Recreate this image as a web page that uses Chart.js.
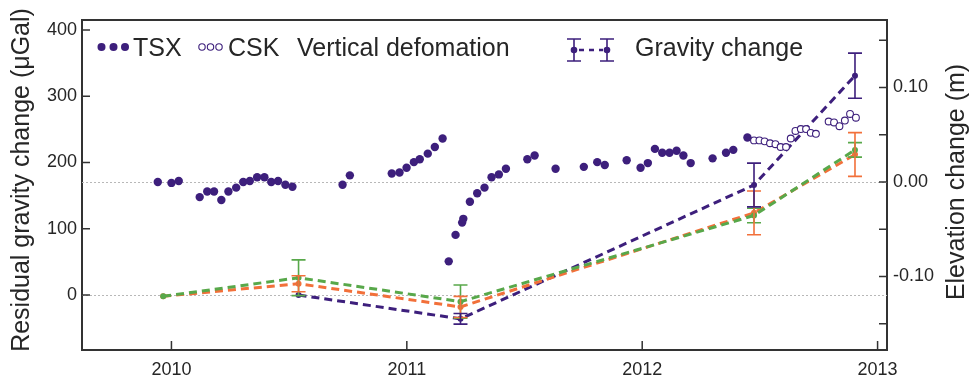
<!DOCTYPE html>
<html>
<head>
<meta charset="utf-8">
<script src="https://cdn.jsdelivr.net/npm/chart.js@4"></script>
<style>
  html, body { margin: 0; padding: 0; background: #fff; }
  #wrap { width: 971px; height: 388px; position: relative; }
</style>
</head>
<body>
<div id="wrap"><canvas id="c"></canvas></div>
<script>
// TSX elevation time series (decimal year, metres)
const tsxYears = [2009.942, 2010.000, 2010.031, 2010.120, 2010.152, 2010.181, 2010.212, 2010.242, 2010.275, 2010.305,
  2010.333, 2010.364, 2010.395, 2010.424, 2010.453, 2010.484, 2010.514, 2010.727, 2010.758, 2010.936,
  2010.969, 2010.999, 2011.030, 2011.055, 2011.089, 2011.119, 2011.152, 2011.178, 2011.207, 2011.235,
  2011.240, 2011.268, 2011.299, 2011.330, 2011.360, 2011.391, 2011.421, 2011.512, 2011.543, 2011.632,
  2011.752, 2011.809, 2011.841, 2011.934, 2011.993, 2012.024, 2012.054, 2012.085, 2012.116, 2012.146,
  2012.175, 2012.206, 2012.299, 2012.356, 2012.387, 2012.447];
const tsxElev = [0.000, -0.001, 0.001, -0.016, -0.010, -0.010, -0.019, -0.010, -0.006, 0.000,
  0.001, 0.005, 0.005, 0.000, 0.001, -0.003, -0.005, -0.003, 0.007, 0.009,
  0.010, 0.015, 0.021, 0.024, 0.030, 0.037, 0.046, -0.084, -0.056, -0.043,
  -0.039, -0.021, -0.012, -0.006, 0.005, 0.008, 0.014, 0.024, 0.028, 0.014,
  0.016, 0.021, 0.018, 0.023, 0.015, 0.020, 0.035, 0.031, 0.031, 0.033,
  0.028, 0.020, 0.025, 0.031, 0.034, 0.047];

// CSK elevation time series
const cskYears = [2012.475, 2012.498, 2012.520, 2012.543, 2012.566, 2012.588, 2012.611, 2012.631, 2012.651, 2012.674,
  2012.696, 2012.716, 2012.738, 2012.792, 2012.815, 2012.838, 2012.861, 2012.883, 2012.908];
const cskElev = [0.044, 0.044, 0.043, 0.041, 0.040, 0.037, 0.037, 0.046, 0.054, 0.056,
  0.056, 0.052, 0.051, 0.064, 0.063, 0.059, 0.065, 0.072, 0.068];

// gravity surveys (µGal) with 1-sigma errors
const gravDates = [2009.965, 2010.540, 2011.228, 2012.475, 2012.904];
const gravPurple = [null, 0, -36, 166, 331];
const errPurple = [0, 2, 8, 33, 34];
const gravOrange = [-2, 17, -18, 124, 212];
const errOrange = [2, 12, 16, 33, 33];
const gravGreen = [-2, 26, -10, 120, 219];
const errGreen = [2, 27, 25, 11, 11];

const xTicks = [2010, 2011, 2012, 2013];
const yTicks = [0, 100, 200, 300, 400];
const y2Ticks = [-0.10, 0.00, 0.10];
const y2MinorTicks = [-0.15, -0.05, 0.05, 0.15];

const C = {
  purple: '#3d1f7c',
  orange: '#f2703a',
  green: '#58a84a',
  axis: '#333333',
  text: '#262626',
  grid: '#b8b8b8',
};
const FONT = 'Liberation Sans, Arial, sans-serif';

const pts = (xs, ys) => xs.map((x, i) => ({ x, y: ys[i] })).filter(p => p.y !== null);

const gravSets = [
  { vals: gravGreen, errs: errGreen, color: C.green },
  { vals: gravOrange, errs: errOrange, color: C.orange },
  { vals: gravPurple, errs: errPurple, color: C.purple },
];

const decor = {
  id: 'decor',
  beforeDatasetsDraw(chart) {
    const { ctx, chartArea: a, scales } = chart;
    ctx.save();
    ctx.strokeStyle = C.grid;
    ctx.lineWidth = 1;
    ctx.setLineDash([2, 2]);
    [scales.y.getPixelForValue(0), scales.y2.getPixelForValue(0)].forEach(py => {
      ctx.beginPath(); ctx.moveTo(a.left, Math.round(py) + 0.5); ctx.lineTo(a.right, Math.round(py) + 0.5); ctx.stroke();
    });
    ctx.restore();
  },
  afterDatasetsDraw(chart) {
    const { ctx, chartArea: a, scales } = chart;
    const xs = scales.x, ys = scales.y, y2 = scales.y2;
    ctx.save();
    // error bars
    ctx.lineWidth = 1.6;
    gravSets.forEach(s => {
      ctx.strokeStyle = s.color;
      s.vals.forEach((v, i) => {
        if (v === null || s.errs[i] < 4) return;
        const px = xs.getPixelForValue(gravDates[i]);
        const t = ys.getPixelForValue(v + s.errs[i]);
        const b = ys.getPixelForValue(v - s.errs[i]);
        ctx.beginPath();
        ctx.moveTo(px, t); ctx.lineTo(px, b);
        ctx.moveTo(px - 7, t); ctx.lineTo(px + 7, t);
        ctx.moveTo(px - 7, b); ctx.lineTo(px + 7, b);
        ctx.stroke();
      });
    });
    // frame + inner ticks
    ctx.strokeStyle = C.axis;
    ctx.lineWidth = 2;
    ctx.beginPath(); ctx.moveTo(a.left, a.top); ctx.lineTo(a.right, a.top); ctx.stroke();
    ctx.lineWidth = 1.5;
    ctx.beginPath();
    xTicks.forEach(v => { const p = xs.getPixelForValue(v); ctx.moveTo(p, a.bottom); ctx.lineTo(p, a.bottom - 9); });
    yTicks.forEach(v => { const p = ys.getPixelForValue(v); ctx.moveTo(a.left, p); ctx.lineTo(a.left + 8, p); });
    y2Ticks.concat(y2MinorTicks).forEach(v => { const p = y2.getPixelForValue(v); ctx.moveTo(a.right, p); ctx.lineTo(a.right - 8, p); });
    ctx.stroke();

    // axis titles
    ctx.fillStyle = C.text;
    ctx.font = '25px ' + FONT;
    ctx.textAlign = 'center';
    ctx.textBaseline = 'middle';
    ctx.save(); ctx.translate(22, 180); ctx.rotate(-Math.PI / 2); ctx.fillText('Residual gravity change (μGal)', 0, 0); ctx.restore();
    ctx.save(); ctx.translate(957, 182); ctx.rotate(-Math.PI / 2); ctx.fillText('Elevation change (m)', 0, 0); ctx.restore();

    // legend
    const ly = 47;
    ctx.fillStyle = C.purple;
    [101.5, 113.5, 125].forEach(x => { ctx.beginPath(); ctx.arc(x, ly, 4, 0, Math.PI * 2); ctx.fill(); });
    ctx.strokeStyle = C.purple; ctx.lineWidth = 1.1;
    [202, 210.5, 219].forEach(x => { ctx.beginPath(); ctx.arc(x, ly, 3.2, 0, Math.PI * 2); ctx.stroke(); });
    ctx.fillStyle = C.text;
    ctx.font = '25px ' + FONT;
    ctx.textAlign = 'left';
    ctx.textBaseline = 'alphabetic';
    ctx.fillText('TSX', 133, 56);
    ctx.fillText('CSK', 228, 56);
    ctx.fillText('Vertical defomation', 297, 56);
    ctx.fillText('Gravity change', 635, 56);
    // gravity legend symbol
    ctx.strokeStyle = C.purple; ctx.lineWidth = 1.6;
    [574, 607].forEach(x => {
      ctx.beginPath();
      ctx.moveTo(x, 39); ctx.lineTo(x, 61);
      ctx.moveTo(x - 7, 39); ctx.lineTo(x + 7, 39);
      ctx.moveTo(x - 7, 61); ctx.lineTo(x + 7, 61);
      ctx.stroke();
    });
    ctx.lineWidth = 2.5; ctx.setLineDash([5, 5]);
    ctx.beginPath(); ctx.moveTo(579, 50); ctx.lineTo(603, 50); ctx.stroke();
    ctx.setLineDash([]);
    ctx.fillStyle = C.purple;
    [574, 607].forEach(x => { ctx.beginPath(); ctx.arc(x, 50, 3.3, 0, Math.PI * 2); ctx.fill(); });
    ctx.restore();
  },
};

const gravDataset = s => ({
  data: pts(gravDates, s.vals),
  yAxisID: 'y',
  showLine: true,
  borderColor: s.color,
  backgroundColor: s.color,
  borderWidth: 3,
  borderDash: [8, 5],
  pointRadius: 3,
  pointBorderWidth: 0,
  tension: 0,
});

new Chart(document.getElementById('c'), {
  type: 'scatter',
  data: {
    datasets: [
      { data: pts(tsxYears, tsxElev), yAxisID: 'y2', pointRadius: 4.2, pointBackgroundColor: C.purple, pointBorderWidth: 0 },
      { data: pts(cskYears, cskElev), yAxisID: 'y2', pointRadius: 3.4, pointBackgroundColor: '#fff', pointBorderColor: C.purple, pointBorderWidth: 1.1 },
      ...gravSets.map(gravDataset),
    ],
  },
  options: {
    responsive: true, maintainAspectRatio: false, animation: false,
    layout: { padding: { top: 20, left: 0, right: 0, bottom: 0 } },
    plugins: { legend: { display: false }, tooltip: { enabled: false } },
    scales: {
      x: {
        type: 'linear', min: 2009.62, max: 2013.04,
        afterBuildTicks: s => { s.ticks = xTicks.map(value => ({ value })); },
        afterFit: s => { s.height = 38; },
        grid: { display: false, drawTicks: false },
        border: { display: true, color: C.axis, width: 2 },
        ticks: { color: C.text, padding: 9, font: { family: FONT, size: 18 }, callback: v => String(v) },
      },
      y: {
        position: 'left', min: -83, max: 415,
        afterBuildTicks: s => { s.ticks = yTicks.map(value => ({ value })); },
        afterFit: s => { s.width = 82; },
        grid: { display: false, drawTicks: false },
        border: { display: true, color: C.axis, width: 2 },
        ticks: { color: C.text, padding: 5, font: { family: FONT, size: 18 }, callback: v => String(v) },
      },
      y2: {
        position: 'right', min: -0.1778, max: 0.1714,
        afterBuildTicks: s => { s.ticks = y2Ticks.map(value => ({ value })); },
        afterFit: s => { s.width = 84; },
        grid: { display: false, drawTicks: false },
        border: { display: true, color: C.axis, width: 2 },
        ticks: { color: C.text, padding: 6, font: { family: FONT, size: 18 }, callback: v => v.toFixed(2) },
      },
    },
  },
  plugins: [decor],
});
</script>
</body>
</html>
